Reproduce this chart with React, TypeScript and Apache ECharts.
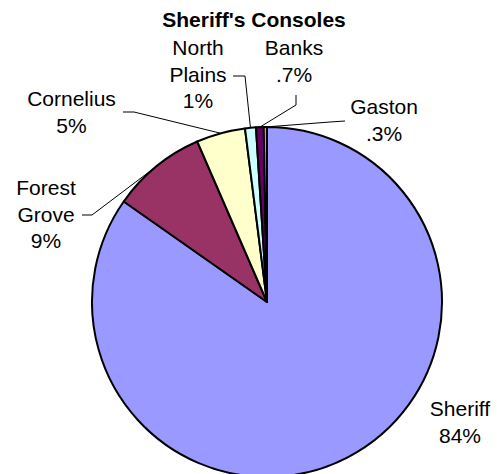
import React, { useEffect, useRef } from "react";
import * as echarts from "echarts";

const categories = ["Sheriff", "Forest Grove", "Cornelius", "North Plains", "Banks", "Gaston"];
const values = [84.4, 8.7, 4.5, 1.0, 0.7, 0.3];
const percentLabels = ["84%", "9%", "5%", "1%", ".7%", ".3%"];
const colors = ["#9999FF", "#993366", "#FFFFCC", "#CCFFFF", "#660066", "#FF8080"];
const titleText = "Sheriff's Consoles";

// layout (label anchors and leader bends), not data
const labelAnchors: number[][] = [
  [460, 422],
  [46, 214],
  [71.5, 112],
  [198, 74],
  [294, 61],
  [384, 120],
];
const leaderBends: (number[][] | null)[] = [
  null,
  [[92, 215], [82, 215]],
  [[134, 112], [123, 112]],
  [[245, 76], [233, 76]],
  [[296, 105], [296, 95]],
  [[330, 122], [345, 121]],
];

const FONT = "'Liberation Sans', Arial, Helvetica, sans-serif";

export default function App() {
  const ref = useRef<HTMLDivElement>(null);
  useEffect(() => {
    if (!ref.current) return;
    const chart = echarts.init(ref.current, undefined, { renderer: "svg" });
    chart.setOption({
      animation: false,
      backgroundColor: "#ffffff",
      graphic: [
        {
          type: "text",
          x: 254,
          y: 19,
          style: {
            text: titleText,
            align: "center",
            verticalAlign: "middle",
            fontFamily: FONT,
            fontWeight: "bold",
            fontSize: 21,
            fill: "#000",
          },
        },
      ],
      series: [
        {
          type: "pie",
          center: [267, 302],
          radius: 175,
          startAngle: 90,
          clockwise: true,
          avoidLabelOverlap: false,
          data: categories.map((name, i) => ({
            name,
            value: values[i],
            itemStyle: { color: colors[i] },
            labelLine: { show: leaderBends[i] !== null },
          })),
          itemStyle: { borderColor: "#000", borderWidth: 2 },
          label: {
            show: true,
            position: "outside",
            formatter: (p: any) =>
              p.name.replace(" ", "\n") + "\n" + percentLabels[p.dataIndex],
            fontFamily: FONT,
            fontSize: 21,
            lineHeight: 26.5,
            color: "#000",
            align: "center",
          },
          labelLine: {
            show: true,
            lineStyle: { color: "#000", width: 1 },
          },
          labelLayout: (params: any) => {
            const i = params.dataIndex;
            const a = labelAnchors[i];
            const res: any = {
              x: a[0],
              y: a[1],
              align: "center",
              verticalAlign: "middle",
            };
            const bends = leaderBends[i];
            if (bends && params.labelLinePoints) {
              res.labelLinePoints = [params.labelLinePoints[0], bends[0], bends[1]];
            }
            return res;
          },
        },
      ],
    });
    return () => chart.dispose();
  }, []);
  return (
    <div
      ref={ref}
      style={{ position: "fixed", left: 0, top: 0, width: 497, height: 474 }}
    />
  );
}
